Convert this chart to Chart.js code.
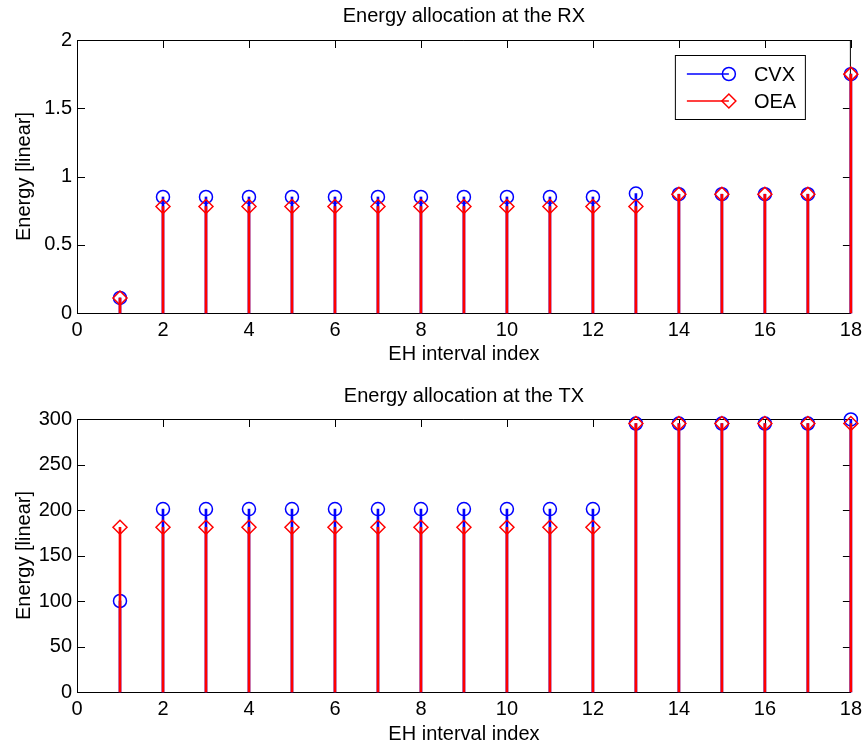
<!DOCTYPE html>
<html>
<head>
<meta charset="utf-8">
<title>Energy allocation</title>
<script src="https://cdn.jsdelivr.net/npm/chart.js@4.4.0/dist/chart.umd.min.js"></script>
<style>
  html, body { margin: 0; padding: 0; background: #fff; }
  canvas { display: block; }
</style>
</head>
<body>
<canvas id="rxChart" width="867" height="372"></canvas>
<canvas id="txChart" width="867" height="372"></canvas>
<script>
// EH interval index
const intervals = [1, 2, 3, 4, 5, 6, 7, 8, 9, 10, 11, 12, 13, 14, 15, 16, 17, 18];

// energy at the RX
const rxCvx = [0.11, 0.85, 0.85, 0.85, 0.85, 0.85, 0.85, 0.85, 0.85, 0.85, 0.85, 0.85, 0.875, 0.87, 0.87, 0.87, 0.87, 1.75];
const rxOea = [0.11, 0.78, 0.78, 0.78, 0.78, 0.78, 0.78, 0.78, 0.78, 0.78, 0.78, 0.78, 0.78, 0.87, 0.87, 0.87, 0.87, 1.75];

// energy at the TX
const txCvx = [100, 201, 201, 201, 201, 201, 201, 201, 201, 201, 201, 201, 295, 295, 295, 295, 295, 299.5];
const txOea = [181, 181, 181, 181, 181, 181, 181, 181, 181, 181, 181, 181, 295, 295, 295, 295, 295, 295];

const xTicks = [0, 2, 4, 6, 8, 10, 12, 14, 16, 18];
const rxTicks = [0, 0.5, 1, 1.5, 2];
const txTicks = [0, 50, 100, 150, 200, 250, 300];

const seriesNames = ['CVX', 'OEA'];
const BLUE = '#0000ff';
const RED = '#ff0000';
const TICK_LEN = 8;

Chart.defaults.font.family = '"Liberation Sans", Arial, sans-serif';
Chart.defaults.font.size = 20;
Chart.defaults.color = '#000';

// matlab style box with inward ticks on all four sides
const boxPlugin = {
  id: 'matlabBox',
  beforeDatasetsDraw(chart) {
    const { ctx, chartArea: a, scales: { x, y } } = chart;
    ctx.save();
    ctx.strokeStyle = '#000';
    ctx.lineWidth = 1;
    ctx.beginPath();
    ctx.rect(a.left + 0.5, a.top + 0.5, a.right - a.left - 1, a.bottom - a.top);
    x.ticks.forEach(t => {
      const px = Math.round(x.getPixelForValue(t.value)) + 0.5;
      ctx.moveTo(px, a.bottom);
      ctx.lineTo(px, a.bottom - TICK_LEN);
      ctx.moveTo(px, a.top);
      ctx.lineTo(px, a.top + TICK_LEN);
    });
    y.ticks.forEach(t => {
      const py = Math.round(y.getPixelForValue(t.value)) + 0.5;
      ctx.moveTo(a.left, py);
      ctx.lineTo(a.left + TICK_LEN, py);
      ctx.moveTo(a.right, py);
      ctx.lineTo(a.right - TICK_LEN, py);
    });
    ctx.stroke();
    ctx.restore();
  }
};

// legend box in the top right corner, line + marker like matlab
const stemLegend = {
  id: 'stemLegend',
  afterDraw(chart, args, opts) {
    if (!opts.show) return;
    const { ctx, chartArea: a } = chart;
    const w = 130, h = 64;
    const left = a.right - 46 - w;
    const top = a.top + 15;
    ctx.save();
    ctx.fillStyle = '#fff';
    ctx.fillRect(left, top, w, h);
    ctx.strokeStyle = '#000';
    ctx.lineWidth = 1;
    ctx.strokeRect(left + 0.5, top + 0.5, w, h);
    const colors = [BLUE, RED];
    seriesNames.forEach((name, i) => {
      const cy = top + 19 + i * 27;
      const mx = left + 54;
      ctx.strokeStyle = colors[i];
      ctx.lineWidth = 1.5;
      ctx.beginPath();
      ctx.moveTo(left + 12, cy);
      ctx.lineTo(mx, cy);
      ctx.stroke();
      ctx.beginPath();
      if (i === 0) {
        ctx.arc(mx, cy, 6.5, 0, Math.PI * 2);
      } else {
        ctx.moveTo(mx - 7, cy);
        ctx.lineTo(mx, cy - 7);
        ctx.lineTo(mx + 7, cy);
        ctx.lineTo(mx, cy + 7);
        ctx.closePath();
      }
      ctx.stroke();
      ctx.fillStyle = '#000';
      ctx.font = '20px "Liberation Sans", Arial, sans-serif';
      ctx.textBaseline = 'middle';
      ctx.fillText(name, left + 79, cy + 1);
    });
    ctx.restore();
  }
};

function points(vals) {
  return intervals.map((x, i) => ({ x: x, y: vals[i] }));
}

function stemDatasets(cvx, oea) {
  return [
    { type: 'bar', label: 'CVX stem', data: points(cvx), backgroundColor: BLUE,
      barThickness: 2, grouped: false, clip: false, order: 4 },
    { type: 'scatter', label: 'CVX', data: points(cvx), pointStyle: 'circle', pointRadius: 6.5,
      borderColor: BLUE, backgroundColor: 'rgba(0,0,0,0)', borderWidth: 1.5, clip: false, order: 3 },
    { type: 'bar', label: 'OEA stem', data: points(oea), backgroundColor: RED,
      barThickness: 2, grouped: false, clip: false, order: 2 },
    { type: 'scatter', label: 'OEA', data: points(oea), pointStyle: 'rectRot', pointRadius: 7,
      borderColor: RED, backgroundColor: 'rgba(0,0,0,0)', borderWidth: 1.5, clip: false, order: 1 }
  ];
}

function makeChart(canvasId, titleText, cvx, oea, yTicks, cfg) {
  return new Chart(document.getElementById(canvasId), {
    type: 'scatter',
    data: { datasets: stemDatasets(cvx, oea) },
    options: {
      responsive: false,
      animation: false,
      events: [],
      layout: { padding: { left: 0, right: 15, top: 0, bottom: 0 } },
      plugins: {
        legend: { display: false },
        tooltip: { enabled: false },
        title: {
          display: true,
          fullSize: false,
          text: titleText,
          color: '#000',
          font: { size: 20, weight: 'normal', lineHeight: 1.2 },
          padding: cfg.titlePad
        },
        stemLegend: { show: cfg.legend }
      },
      scales: {
        x: {
          type: 'linear',
          min: 0,
          max: 18,
          offset: false,
          grid: { display: false, offset: false, drawTicks: false },
          border: { display: false },
          ticks: { padding: 5, maxRotation: 0, autoSkip: false, callback: v => String(v) },
          afterBuildTicks: s => { s.ticks = xTicks.map(v => ({ value: v })); },
          afterFit: s => { s.height = cfg.xHeight; },
          title: {
            display: true,
            text: 'EH interval index',
            color: '#000',
            font: { size: 20, lineHeight: 1.2 },
            padding: { top: 0, bottom: cfg.xTitleBottom }
          }
        },
        y: {
          type: 'linear',
          min: yTicks[0],
          max: yTicks[yTicks.length - 1],
          grid: { display: false, drawTicks: false },
          border: { display: false },
          ticks: { padding: 5, autoSkip: false, callback: v => String(v) },
          afterBuildTicks: s => { s.ticks = yTicks.map(v => ({ value: v })); },
          afterFit: s => { s.width = 77; },
          title: {
            display: true,
            text: 'Energy [linear]',
            color: '#000',
            font: { size: 20, lineHeight: 1.2 },
            padding: { top: 12, bottom: 0 }
          }
        }
      }
    },
    plugins: [boxPlugin, stemLegend]
  });
}

makeChart('rxChart', 'Energy allocation at the RX', rxCvx, rxOea, rxTicks,
  { titlePad: { top: 4, bottom: 12 }, xHeight: 59, xTitleBottom: 6, legend: true });
makeChart('txChart', 'Energy allocation at the TX', txCvx, txOea, txTicks,
  { titlePad: { top: 12, bottom: 11 }, xHeight: 52, xTitleBottom: -2, legend: false });
</script>
</body>
</html>
